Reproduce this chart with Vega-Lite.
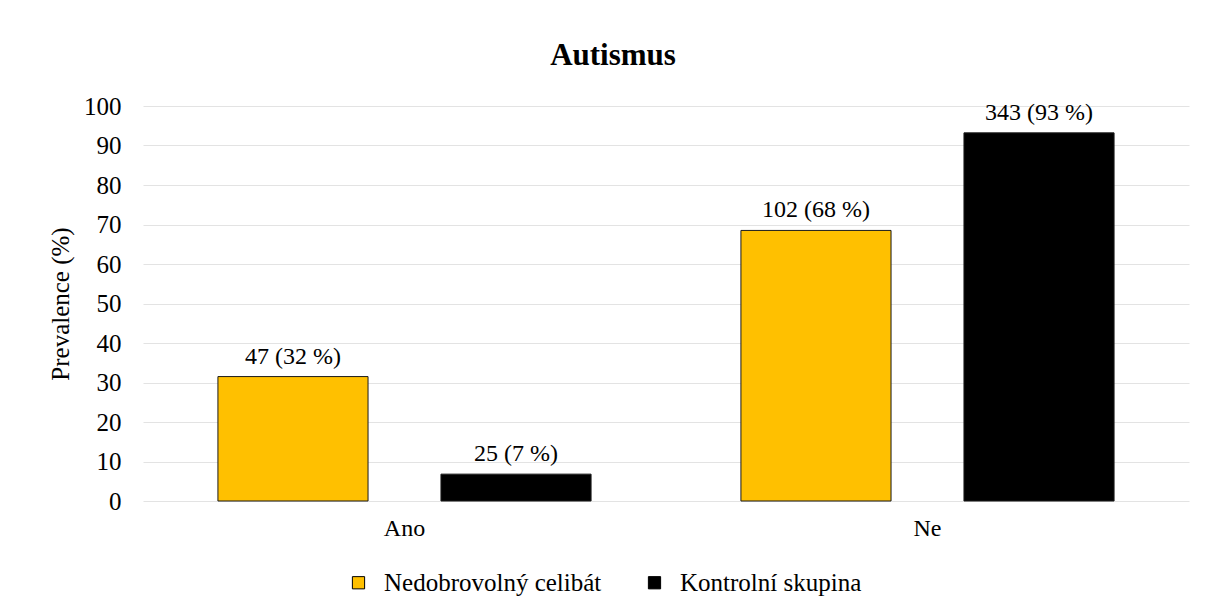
{
  "$schema": "https://vega.github.io/schema/vega-lite/v6.json",
  "autosize": "none",
  "width": 1046,
  "height": 395,
  "padding": {"left": 143, "top": 106, "right": 17, "bottom": 112},
  "background": "white",
  "config": {
    "font": "Liberation Serif",
    "view": {"stroke": null}
  },
  "title": {
    "text": "Autismus",
    "font": "Liberation Serif",
    "fontSize": 31,
    "fontWeight": "bold",
    "color": "#000000",
    "anchor": "middle",
    "dx": -53,
    "offset": 22
  },
  "data": {
    "values": [
      {"odpoved": "Ano", "skupina": "Nedobrovolný celibát", "prevalence": 31.5, "label": "47 (32 %)"},
      {"odpoved": "Ano", "skupina": "Kontrolní skupina", "prevalence": 6.8, "label": "25 (7 %)"},
      {"odpoved": "Ne", "skupina": "Nedobrovolný celibát", "prevalence": 68.5, "label": "102 (68 %)"},
      {"odpoved": "Ne", "skupina": "Kontrolní skupina", "prevalence": 93.2, "label": "343 (93 %)"}
    ]
  },
  "encoding": {
    "x": {
      "field": "odpoved",
      "type": "nominal",
      "sort": ["Ano", "Ne"],
      "scale": {"paddingInner": 0, "paddingOuter": 0},
      "axis": {
        "title": null,
        "labelAngle": 0,
        "labelFont": "Liberation Serif",
        "labelFontSize": 24,
        "labelColor": "#000000",
        "labelPadding": 15,
        "domain": false,
        "ticks": false,
        "grid": false
      }
    },
    "xOffset": {
      "field": "skupina",
      "type": "nominal",
      "sort": ["Nedobrovolný celibát", "Kontrolní skupina"],
      "scale": {"paddingInner": 0.327, "paddingOuter": 0.336}
    },
    "y": {
      "field": "prevalence",
      "type": "quantitative",
      "scale": {"domain": [0, 100], "nice": false},
      "axis": {
        "title": "Prevalence (%)",
        "titleFont": "Liberation Serif",
        "titleFontSize": 25,
        "titleFontWeight": "normal",
        "titleColor": "#000000",
        "titlePadding": 10,
        "values": [0, 10, 20, 30, 40, 50, 60, 70, 80, 90, 100],
        "labelFont": "Liberation Serif",
        "labelFontSize": 25,
        "labelColor": "#000000",
        "labelPadding": 22,
        "domain": false,
        "ticks": false,
        "grid": true,
        "gridColor": "#e3e3e3",
        "gridWidth": 1.2
      }
    }
  },
  "layer": [
    {
      "mark": {"type": "bar", "stroke": "#1a1a1a", "strokeWidth": 1},
      "encoding": {
        "color": {
          "field": "skupina",
          "type": "nominal",
          "sort": ["Nedobrovolný celibát", "Kontrolní skupina"],
          "scale": {"domain": ["Nedobrovolný celibát", "Kontrolní skupina"], "range": ["#FFC000", "#000000"]},
          "legend": {
            "title": null,
            "orient": "none",
            "direction": "horizontal",
            "legendX": 203,
            "legendY": 464,
            "symbolType": "square",
            "symbolSize": 150,
            "symbolStrokeColor": "#000000",
            "symbolStrokeWidth": 1,
            "labelFont": "Liberation Serif",
            "labelFontSize": 25,
            "labelColor": "#000000",
            "labelOffset": 13,
            "columnPadding": 40,
            "labelLimit": 400
          }
        }
      }
    },
    {
      "mark": {"type": "text", "baseline": "alphabetic", "align": "center", "dy": -13, "font": "Liberation Serif", "fontSize": 24, "color": "#000000"},
      "encoding": {
        "text": {"field": "label", "type": "nominal"}
      }
    }
  ]
}
